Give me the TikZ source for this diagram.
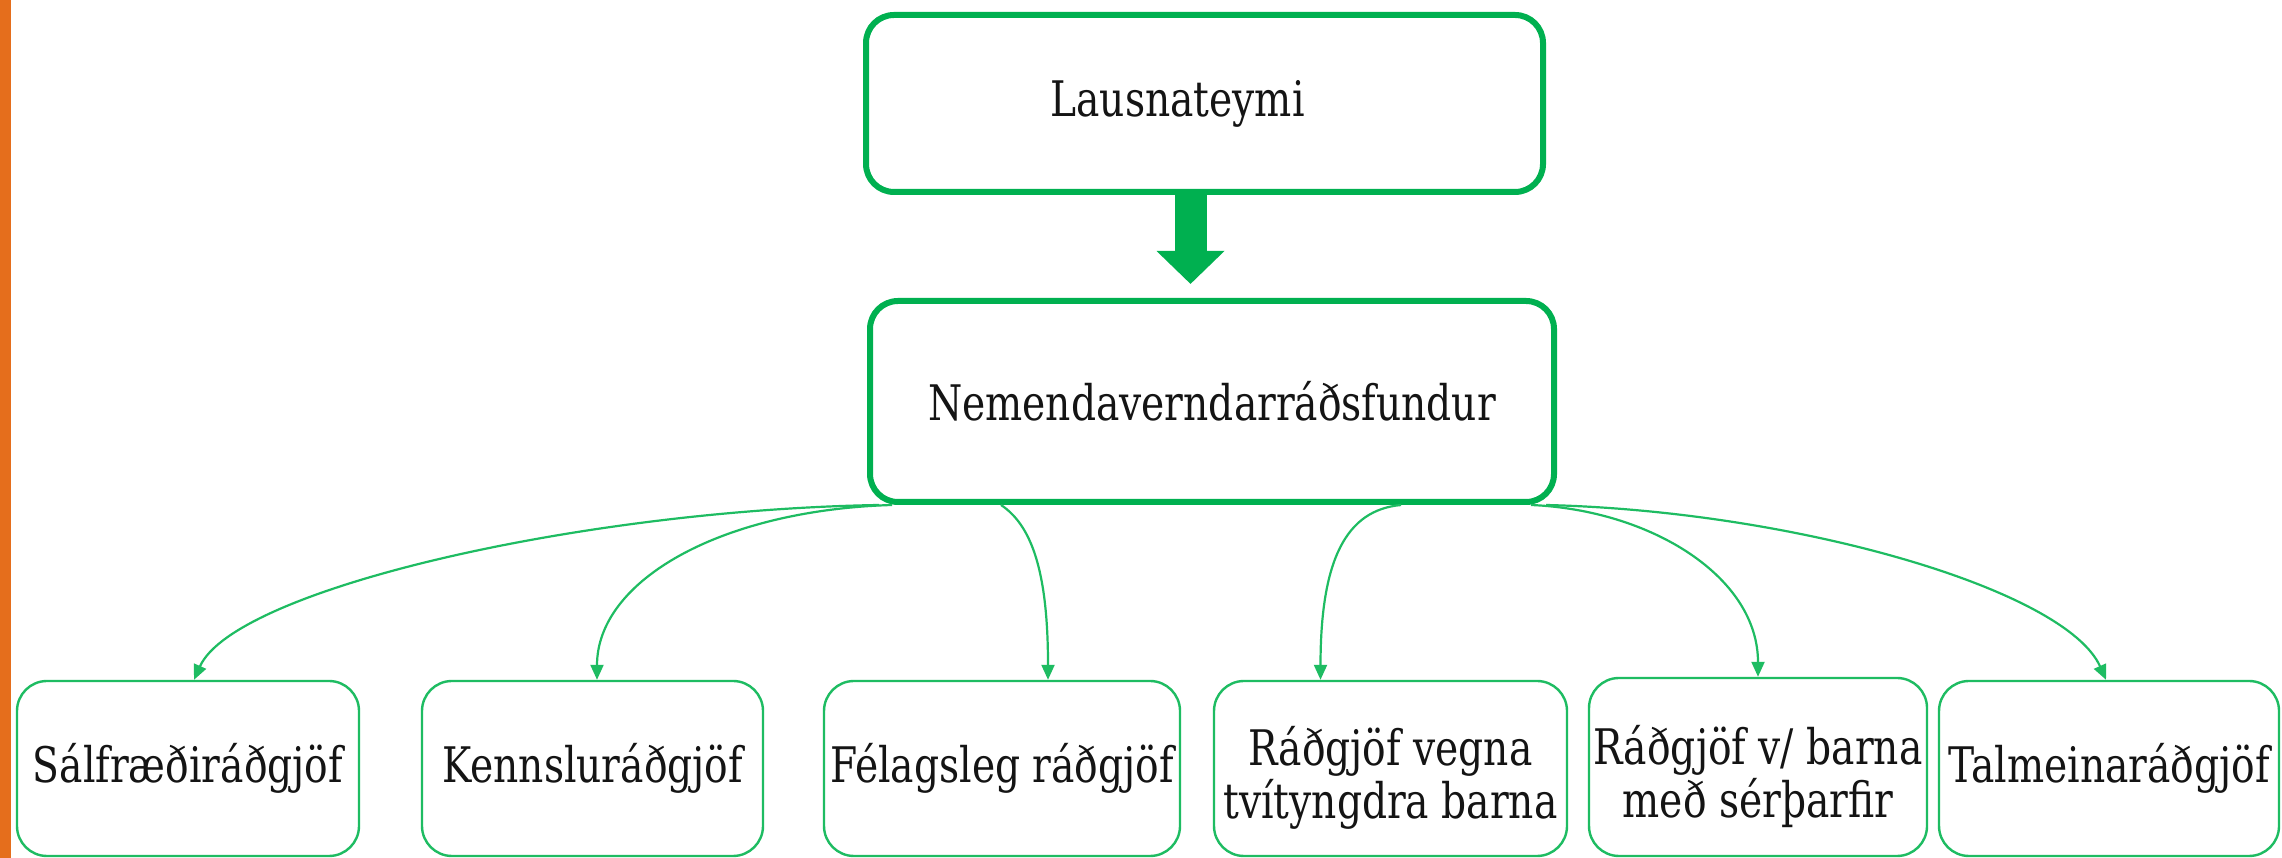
\documentclass[tikz,border=0pt]{standalone}
\usepackage{fontspec}
\setmainfont{DejaVu Serif}[FakeStretch=0.8]
\usetikzlibrary{arrows.meta}
\definecolor{boxgreen}{RGB}{0,176,80}
\definecolor{thingreen}{RGB}{30,188,98}
\definecolor{stripcol}{RGB}{229,110,28}
\definecolor{txt}{RGB}{20,20,20}
\tikzset{
  bigbox/.style={draw=boxgreen, line width=6pt, rounded corners=28pt, inner sep=0pt,
    text=txt, font=\fontsize{49}{53}\selectfont},
  smallbox/.style={draw=thingreen, line width=2.4pt, rounded corners=30pt, inner sep=0pt,
    minimum height=175pt, text=txt, align=center, font=\fontsize{49}{53}\selectfont},
  boxtext/.style={inner sep=0pt, text=txt, align=center, font=\fontsize{49}{53}\selectfont},
  conn/.style={draw=thingreen, line width=2.2pt, -{Triangle[length=15pt,width=13pt]}},
  bigarrow/.style={draw=boxgreen, line width=32pt, -{Triangle[length=33pt,width=66pt]}}
}
\begin{document}
\begin{tikzpicture}[x=1pt,y=1pt]
\useasboundingbox (0,0) rectangle (2282,858);
\fill[white] (0,0) rectangle (2282,858);
\fill[stripcol] (0,0) rectangle (11,858);
% boxes
\node[bigbox, minimum width=677pt, minimum height=177pt] (top) at (1204.5,754.5) {Lausnateymi\hspace*{54pt}};
\node[bigbox, minimum width=684pt, minimum height=201pt] (mid) at (1212,456.5) {Nemendaverndarráðsfundur};
\node[smallbox, minimum width=342pt] (b1) at (188,89.5) {Sálfræðiráðgjöf};
\node[smallbox, minimum width=341pt] (b2) at (592.5,89.5) {Kennsluráðgjöf};
\node[smallbox, minimum width=356pt] (b3) at (1002,89.5) {Félagsleg ráðgjöf};
\node[smallbox, minimum width=353pt] (b4) at (1390.5,89.5) {};
\node[boxtext] (t4) at ([yshift=-9pt]b4.center) {Ráðgjöf vegna\\tvítyngdra barna};
\node[smallbox, minimum width=338pt, minimum height=178pt] (b5) at (1758,91) {};
\node[boxtext] (t5) at ([yshift=-10pt]b5.center) {Ráðgjöf v/ barna\\með sérþarfir};
\node[smallbox, minimum width=340pt] (b6) at (2109,89.5) {Talmeinaráðgjöf};
% big arrow
\coordinate (astart) at ([xshift=-14pt]top.south);
\draw[bigarrow, shorten >=14pt] (astart) -- (astart |- mid.north);
% connectors
\draw[conn] ([xshift=12pt]mid.south west) .. controls +(-300,-5) and +(40,90) .. ([xshift=6pt]b1.north);
\draw[conn] ([xshift=25pt]mid.south west) .. controls +(-170,-5) and +(0,100) .. ([xshift=4.5pt]b2.north);
\draw[conn] ([xshift=134pt]mid.south west) .. controls +(30,-20) and +(0,110) .. ([xshift=46pt]b3.north);
\draw[conn] ([xshift=534pt]mid.south west) .. controls +(-55,-5) and +(0,120) .. ([xshift=-70pt]b4.north);
\draw[conn] ([xshift=-26pt]mid.south east) .. controls +(120,-5) and +(0,100) .. (b5.north);
\draw[conn] ([xshift=-11pt]mid.south east) .. controls +(250,-6) and +(-40,90) .. ([xshift=-3pt]b6.north);
\end{tikzpicture}
\end{document}
